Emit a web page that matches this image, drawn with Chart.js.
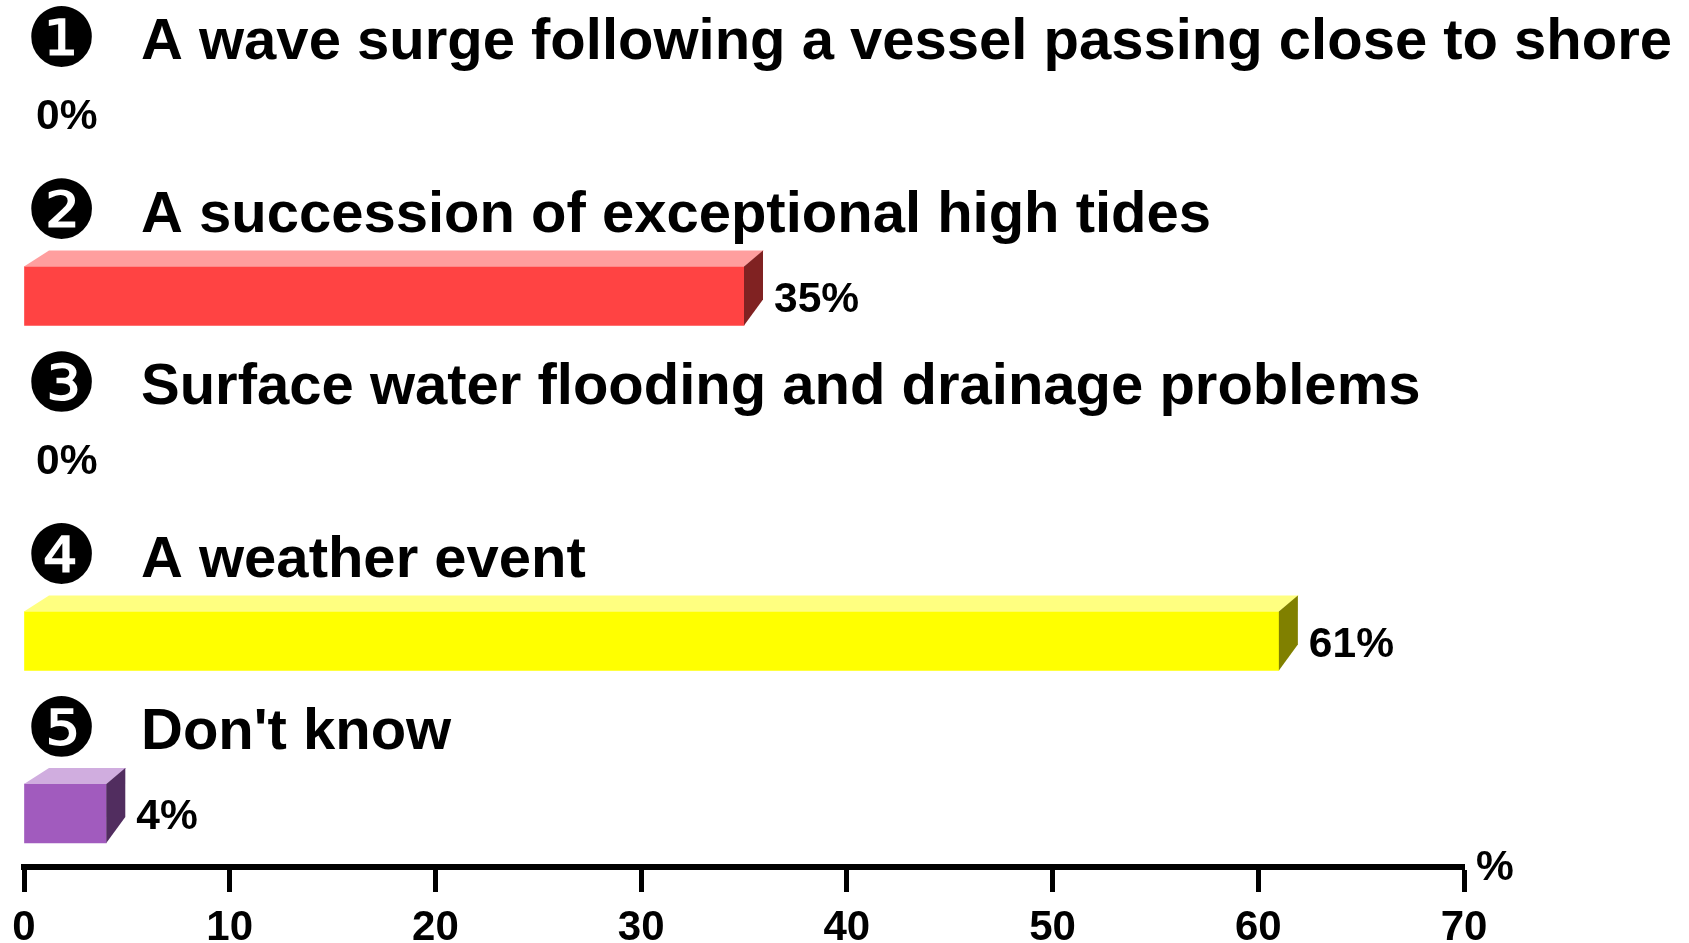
<!DOCTYPE html>
<html><head><meta charset="utf-8">
<style>html,body{margin:0;padding:0;background:#fff}canvas{display:block}</style>
<script src="https://cdn.jsdelivr.net/npm/chart.js@4"></script></head>
<body><canvas id="c" width="1689" height="943"></canvas>
<script>
const categories=["A wave surge following a vessel passing close to shore","A succession of exceptional high tides","Surface water flooding and drainage problems","A weather event","Don't know"];
const markers=["❶","❷","❸","❹","❺"];
const values=[0,35,0,61,4];
const frontColors=["#FF4343","#FF4343","#FF4343","#FFFF00","#A15BBE"];
const topColors=["#FF9E9E","#FF9E9E","#FF9E9E","#FFFF80","#D0ADDF"];
const sideColors=["#802222","#802222","#802222","#808000","#512D5F"];
const xTicks=[0,10,20,30,40,50,60,70];
const rows=values.map((v,i)=>({x:v,y:i}));
const bar3d={id:'bar3d',afterDatasetsDraw(chart){
  const ctx=chart.ctx,els=chart.getDatasetMeta(0).data,xs=chart.scales.x;
  const poly=(pts,c)=>{ctx.fillStyle=c;ctx.beginPath();pts.forEach((p,i)=>i?ctx.lineTo(p[0],p[1]):ctx.moveTo(p[0],p[1]));ctx.closePath();ctx.fill();};
  els.forEach((el,i)=>{
    const cy=el.y,t=cy-29.5,b=cy+29.5,l=xs.getPixelForValue(0),r=el.x;
    const v=values[i];
    if(v>0){
      poly([[l,t],[l+25,t-16],[r+20,t-16],[r,t]],topColors[i]);
      poly([[r,t],[r+19,t-16],[r+19,b-26],[r,b]],sideColors[i]);
    }
    ctx.fillStyle='#000';ctx.textBaseline='alphabetic';ctx.textAlign='left';
    ctx.font='bold 42.5px "Liberation Sans"';
    const ly=v>0?cy+15.5:cy+5;
    ctx.fillText(v+'%',v>0?r+30:36,ly);
    ctx.font='bold 58px "Liberation Sans"';
    ctx.fillText(categories[i],141,cy-64.5);
    ctx.font='81px "DejaVu Sans"';ctx.textAlign='center';
    ctx.fillText(markers[i],61.5,cy-58);
  });
  ctx.font='bold 42.5px "Liberation Sans"';ctx.textAlign='left';
  ctx.fillText('%',1476,880);
}};
new Chart(document.getElementById('c'),{
  type:'bar',
  data:{labels:categories,datasets:[{data:rows,backgroundColor:c=>values[c.dataIndex]>0?frontColors[c.dataIndex]:'transparent',borderWidth:0,barThickness:59}]},
  plugins:[bar3d],
  options:{
    indexAxis:'y',responsive:false,animation:false,
    layout:{padding:{left:24,right:225,top:0,bottom:0}},
    plugins:{legend:{display:false},tooltip:{enabled:false}},
    scales:{
      y:{type:'linear',reverse:true,offset:false,min:-0.716,max:4.31,display:false},
      x:{type:'linear',min:0,max:70,position:'bottom',
        afterFit(s){s.height=76;},
        afterBuildTicks(s){s.ticks=xTicks.map(v=>({value:v}));},
        border:{display:true,color:'#000',width:6},
        grid:{drawOnChartArea:false,drawTicks:true,tickLength:25,tickWidth:5,color:'#000',tickColor:'#000'},
        ticks:{color:'#000',padding:11,maxRotation:0,autoSkip:false,font:{family:'"Liberation Sans"',size:42,weight:'bold'}}
      }
    }
  }
});
</script></body></html>
